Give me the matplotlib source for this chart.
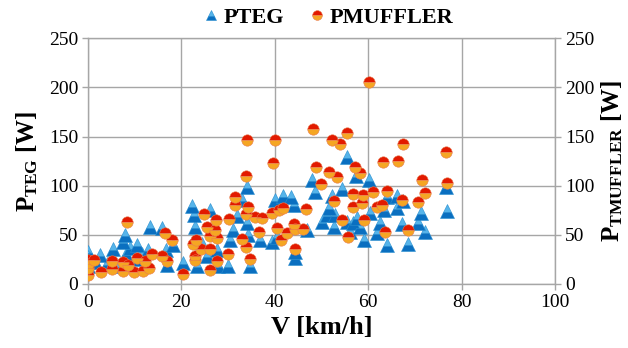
import matplotlib
matplotlib.use("Agg")
import matplotlib.pyplot as plt
from matplotlib.lines import Line2D

# PTEG series (blue triangles)
pteg_v = [0, 0, 0, 0, 0.5, 1.5, 2.6, 4, 5.4, 6.5, 7.5, 7.9, 8.2, 9, 10.4, 10.8, 11.5, 12.8,
          13.3, 15.8, 16.7, 16.9, 18.3, 20.4,
          22.2, 22.6, 22.9, 23.3, 24.4, 25.4, 26.1, 26.8, 27.6, 27.9, 30, 30.4, 31.1, 31.9,
          32.9, 34, 34, 34.3, 34.7, 36.9, 39.4, 40.1, 40.4, 41.8, 43.5, 44.1, 44.4, 44.4,
          46.8, 47.9, 48.6, 50.1, 51.1, 51.5, 52.2, 52.6, 52.9, 54.3, 55.4, 55.4, 56.1, 56.8,
          57.4, 57.5, 58.3, 59, 60.1, 60.4, 61.9, 62.6, 63.3, 64, 64, 66.1, 66.1, 67.2, 67.4,
          68.6, 70.6, 71.3, 72.1, 76.7, 76.8]
pteg_p = [33, 27, 22, 18, 25, 22, 29.5, 20, 36, 18, 43, 50, 30, 37, 40, 25, 30, 35,
          58, 57, 35, 19, 40, 21,
          79, 70, 58, 18, 41, 28, 75, 58, 35, 18, 18, 45, 55, 69,
          85, 99, 62, 50, 18, 45, 43, 85, 48, 90, 89, 80, 26, 33,
          55, 106, 94, 63, 70, 77, 90, 58, 70, 97, 129, 63, 53, 62,
          110, 67, 58, 45, 106, 72, 52, 62, 75, 89, 40, 90, 77, 61, 84,
          41, 62, 72, 53, 99, 74]

# PMUFFLER series (red/orange circles)
pmuf_v = [0, 0, 0, 0, 1.3, 2.8, 5.1, 5.1, 7.5, 7.5, 8.4, 8.6, 9.9, 10.5, 11.8, 12.2, 13,
          13.7, 15.9, 16.5, 16.9, 18, 20.4,
          22.4, 22.9, 22.9, 23.1, 24.1, 24.9, 25.4, 26.1, 26.1, 26.1, 27.3, 27.4, 27.6, 27.7,
          30, 30.3, 31.4, 31.5, 32.9, 33.8, 33.9, 33.9, 34, 34.3, 34.7, 35.8, 36.7, 37.2,
          39.4, 39.7, 40.1, 40.4, 40.8, 41.3, 41.8, 42.6, 44.1, 44.4, 44.4, 46.1, 46.7,
          48.1, 48.8, 49.9, 51.5, 52.2, 52.6, 53.3, 53.9, 54.3, 55.4, 55.6, 56.7, 56.7,
          57.2, 58.3, 58.6, 58.8, 59, 60.1, 61.1, 61.9, 62.9, 63.1, 63.6, 64, 66.3, 67.2,
          67.4, 68.6, 70.6, 71.4, 72.1, 76.7, 76.8]
pmuf_p = [24, 20, 16, 9, 24, 12, 23, 15, 22, 13, 63, 19, 12, 26, 13, 23, 16,
          30, 28, 52, 23, 45, 10,
          41, 28, 24, 45, 36, 71, 58, 49, 36, 14, 55, 65, 23, 47,
          30, 66, 80, 89, 46, 110, 71, 38, 146, 78, 25, 68, 53, 67,
          72, 123, 147, 57, 75, 45, 77, 52, 61, 56, 36, 56, 76,
          158, 119, 102, 114, 147, 84, 109, 142, 65, 154, 48, 92, 78,
          119, 113, 82, 91, 65, 206, 94, 78, 80, 124, 53, 95, 125, 85,
          142, 55, 83, 106, 93, 134, 103]

x_ticks = [0, 20, 40, 60, 80, 100]
y_ticks = [0, 50, 100, 150, 200, 250]

plt.rcParams['font.family'] = ['Liberation Serif', 'DejaVu Serif']
plt.rcParams['mathtext.fontset'] = 'custom'
plt.rcParams['mathtext.bf'] = 'Liberation Serif:bold'
plt.rcParams['mathtext.rm'] = 'Liberation Serif'
plt.rcParams['mathtext.it'] = 'Liberation Serif:italic'

fig = plt.figure(figsize=(6.28, 3.48), dpi=100)
ax = fig.add_axes([0.140, 0.184, 0.744, 0.706])

grid_c = '#a6a6a6'
tri_kw = dict(linestyle='none', marker='^', markerfacecolor='#56b4ea',
              markerfacecoloralt='#0a6fc0', fillstyle='top',
              markeredgecolor='#2a8fd0', markeredgewidth=0.4)
cir_kw = dict(linestyle='none', marker='o', markerfacecolor='#e21a00',
              markerfacecoloralt='#f5a623', fillstyle='top',
              markeredgecolor='#e87b50', markeredgewidth=0.4)

ax.plot(pteg_v, pteg_p, markersize=10, zorder=3, **tri_kw)
ax.plot(pmuf_v, pmuf_p, markersize=8.2, zorder=4, **cir_kw)

ax.set_xlim(0, 100)
ax.set_ylim(0, 250)
ax.set_xticks(x_ticks)
ax.set_yticks(y_ticks)
ax.grid(True, color=grid_c, linewidth=1.0)
ax.set_axisbelow(True)
for s in ax.spines.values():
    s.set_color(grid_c)
    s.set_linewidth(1.0)
ax.tick_params(axis='both', colors=grid_c, labelcolor='black', labelsize=14,
               length=4, width=1.0, direction='out', pad=3)

ax2 = ax.twinx()
ax2.set_ylim(0, 250)
ax2.set_yticks(y_ticks)
ax2.tick_params(axis='y', colors=grid_c, labelcolor='black', labelsize=14,
                length=4, width=1.0, direction='out', pad=3)
for s in ax2.spines.values():
    s.set_visible(False)

ax.set_xlabel('V [km/h]', fontsize=19, fontweight='bold', labelpad=4)
ax.set_ylabel(r'P$_{\mathbf{TEG}}$ [W]', fontsize=18, fontweight='bold', labelpad=6)
ax2.set_ylabel(r'P$_{\mathbf{TMUFFLER}}$ [W]', fontsize=18, fontweight='bold', labelpad=4)

h1 = Line2D([], [], markersize=7.5, **tri_kw)
h2 = Line2D([], [], markersize=7, **cir_kw)
fig.legend([h1, h2], ['PTEG', 'PMUFFLER'], loc='center', bbox_to_anchor=(0.52, 0.95),
           ncol=2, frameon=False, prop={'size': 16, 'weight': 'bold'},
           handletextpad=0.05, columnspacing=1.0, handlelength=1.0)

fig.savefig('out.png', dpi=100)
